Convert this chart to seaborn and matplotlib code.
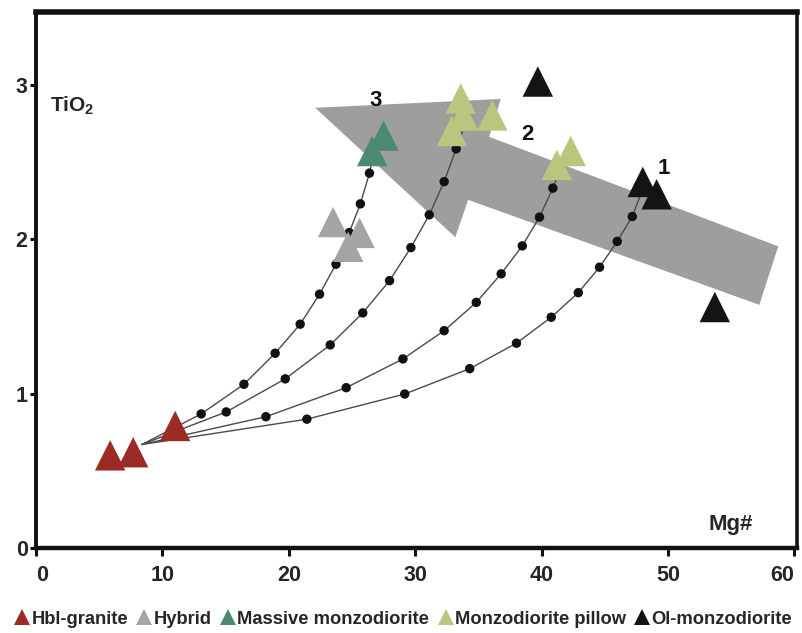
import matplotlib
matplotlib.use("Agg")
import matplotlib.pyplot as plt
import pandas as pd
import seaborn as sns
from matplotlib.lines import Line2D

# Sample compositions: Mg# and TiO2 (wt%)
hbl_granite_mg = [5.87, 7.69, 11.01]
hbl_granite_ti = [0.60, 0.62, 0.79]
hybrid_mg = [23.5, 25.6, 24.7]
hybrid_ti = [2.11, 2.04, 1.95]
massive_mg = [27.5, 26.6]
massive_ti = [2.67, 2.57]
pillow_mg = [33.6, 33.8, 32.9, 36.1, 42.3, 41.2]
pillow_ti = [2.91, 2.80, 2.70, 2.80, 2.57, 2.48]
ol_mg = [39.7, 48.0, 49.1, 53.7]
ol_ti = [3.02, 2.37, 2.29, 1.56]

rock_types = ["Hbl-granite", "Hybrid", "Massive monzodiorite",
              "Monzodiorite pillow", "Ol-monzodiorite"]
rock_colors = ["#9B2B24", "#A4A4A4", "#4C8A6F", "#B8C77D", "#141414"]

# Mixing curves from the granitic end-member (10 % steps)
mix_start_mg = 8.38
mix_start_ti = 0.67
curve3_mg = [13.07, 16.45, 18.92, 20.90, 22.43, 23.73, 24.78, 25.66, 26.38, 26.68]
curve3_ti = [0.868, 1.060, 1.261, 1.449, 1.643, 1.837, 2.042, 2.228, 2.427, 2.545]
curve2_mg = [15.05, 19.72, 23.28, 25.85, 27.97, 29.66, 31.11, 32.29, 33.24, 33.72]
curve2_ti = [0.881, 1.095, 1.315, 1.522, 1.731, 1.945, 2.157, 2.372, 2.584, 2.694]
curve2b_mg = [18.19, 24.54, 29.03, 32.29, 34.83, 36.80, 38.47, 39.83, 40.89, 41.23]
curve2b_ti = [0.850, 1.038, 1.224, 1.407, 1.590, 1.775, 1.956, 2.142, 2.330, 2.403]
curve1_mg = [21.43, 29.17, 34.31, 38.01, 40.76, 42.90, 44.58, 45.98, 47.17, 47.88]
curve1_ti = [0.834, 0.997, 1.161, 1.326, 1.494, 1.653, 1.818, 1.985, 2.146, 2.299]

# Outline of the broad trend arrow
arrow_mg = [22.09, 36.76, 35.85, 58.72, 57.22, 34.19, 33.17]
arrow_ti = [2.850, 2.907, 2.662, 1.953, 1.574, 2.254, 2.012]

x_ticks = [0, 10, 20, 30, 40, 50, 60]
y_ticks = [0, 1, 2, 3]

sns.set_theme(style="white")
plt.rcParams["font.family"] = ["Liberation Sans", "DejaVu Sans"]
plt.rcParams["mathtext.fontset"] = "custom"
plt.rcParams["mathtext.rm"] = "Liberation Sans"
plt.rcParams["mathtext.bf"] = "Liberation Sans:bold"

fig = plt.figure(figsize=(8.03, 6.33), dpi=100)
ax = fig.add_axes([0.0448, 0.1343, 0.9477, 0.8467])

# trend arrow
ax.fill(arrow_mg, arrow_ti, color="#9E9E9E", lw=0, zorder=1)

# mixing curves
curves = [(curve3_mg, curve3_ti), (curve2_mg, curve2_ti),
          (curve2b_mg, curve2b_ti), (curve1_mg, curve1_ti)]
for cmg, cti in curves:
    line_df = pd.DataFrame({"mg": [mix_start_mg] + cmg,
                            "ti": [mix_start_ti] + cti})
    sns.lineplot(data=line_df, x="mg", y="ti", sort=False, estimator=None,
                 color="#4A4A4A", lw=1.0, ax=ax, zorder=2)
    dot_df = pd.DataFrame({"mg": cmg[:-1], "ti": cti[:-1]})
    sns.scatterplot(data=dot_df, x="mg", y="ti", color="#111111", s=46,
                    edgecolor="none", ax=ax, zorder=3, legend=False)

# samples
samples = pd.concat([
    pd.DataFrame({"mg": hbl_granite_mg, "ti": hbl_granite_ti, "rock": rock_types[0]}),
    pd.DataFrame({"mg": hybrid_mg, "ti": hybrid_ti, "rock": rock_types[1]}),
    pd.DataFrame({"mg": massive_mg, "ti": massive_ti, "rock": rock_types[2]}),
    pd.DataFrame({"mg": pillow_mg, "ti": pillow_ti, "rock": rock_types[3]}),
    pd.DataFrame({"mg": ol_mg, "ti": ol_ti, "rock": rock_types[4]}),
], ignore_index=True)
sns.scatterplot(data=samples, x="mg", y="ti", hue="rock", hue_order=rock_types,
                palette=rock_colors, marker="^", s=480, edgecolor="none",
                linewidth=0, ax=ax, zorder=4, legend=False)

# curve numbers
for label, xm, yt in [("3", 26.84, 2.90), ("2", 38.84, 2.68), ("1", 49.64, 2.46)]:
    ax.text(xm, yt, label, fontsize=16, fontweight="bold", ha="center",
            va="center", color="#111111", zorder=5)

ax.text(0.018, 0.826, r"TiO$_{\mathbf{2}}$", transform=ax.transAxes,
        fontsize=15, fontweight="bold", ha="left", va="center")
ax.text(0.913, 0.043, "Mg#", transform=ax.transAxes, fontsize=16,
        fontweight="bold", ha="center", va="center")

ax.set_xlim(0, 60.2)
ax.set_ylim(0, 3.47)
ax.set_xticks(x_ticks)
ax.set_yticks(y_ticks)
ax.set_xticklabels([str(v) for v in x_ticks], fontsize=15.5, fontweight="bold")
ax.set_yticklabels([str(v) for v in y_ticks], fontsize=15.5, fontweight="bold")
xl = ax.get_xticklabels()
xl[0].set_ha("left")
xl[-1].set_ha("right")
ax.set_xlabel("")
ax.set_ylabel("")
ax.tick_params(axis="x", direction="out", length=6, width=2.2, pad=6,
               bottom=True, color="#111111")
ax.tick_params(axis="y", direction="out", length=4, width=2.2, pad=2,
               left=True, color="#111111")
for side, w in [("left", 2.8), ("bottom", 3.2), ("right", 2.6), ("top", 4.0)]:
    ax.spines[side].set_visible(True)
    ax.spines[side].set_linewidth(w)
    ax.spines[side].set_color("#111111")

handles = [Line2D([], [], marker="^", ls="none", color=c, markeredgewidth=0,
                  markersize=11) for c in rock_colors]
fig.legend(handles, rock_types, loc="center", bbox_to_anchor=(0.503, 0.022),
           ncol=5, frameon=False, handlelength=0.7, handletextpad=0.15,
           columnspacing=0.55, borderpad=0.1,
           prop={"weight": "bold", "size": 13.2})

fig.savefig("out.png", dpi=100)
